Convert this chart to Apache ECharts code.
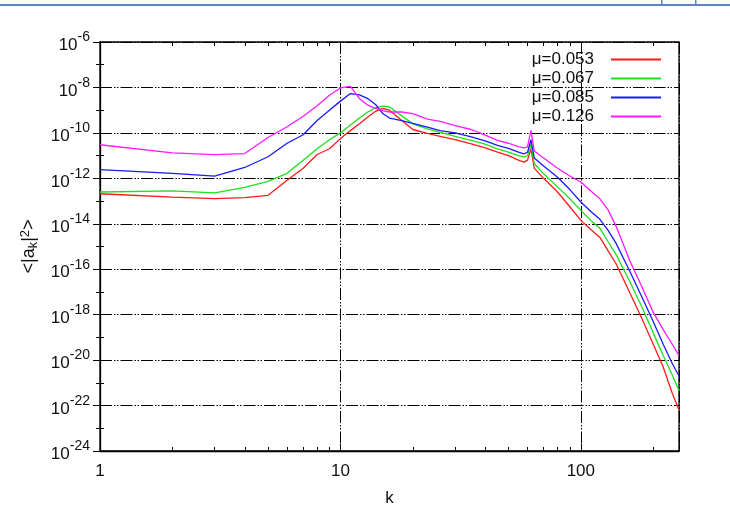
<!DOCTYPE html>
<html>
<head>
<meta charset="utf-8">
<script src="https://cdn.jsdelivr.net/npm/echarts@6/dist/echarts.min.js"></script>
<style>
html, body { margin: 0; padding: 0; background: #fff; }
#chart { width: 730px; height: 519px; }
</style>
</head>
<body>
<div id="chart"></div>
<script>
// Wavenumbers k shared by all spectra
const kValues = [1, 2, 3, 4, 5, 6, 7, 8, 9, 10, 11, 12, 13, 14, 15, 16, 18, 20, 23, 26, 30, 35, 40, 45,
  50, 55, 58, 60, 62, 64, 70, 80, 90, 100, 110, 120, 130, 140, 160, 180, 200, 220, 240, 256];

// <|a_k|^2> for each value of mu
const spectrumMu053 = [2.1e-13, 1.48e-13, 1.29e-13, 1.41e-13, 1.78e-13, 8.3e-13, 2.8e-12, 1.12e-11, 2.0e-11, 5.6e-11,
  1.26e-10, 2.5e-10, 5.0e-10, 8.9e-10, 1.2e-9, 1.0e-9, 3.5e-10, 1.41e-10, 9.5e-11, 7.1e-11, 5.0e-11, 3.3e-11, 2.2e-11, 1.41e-11,
  1.0e-11, 6.3e-12, 5.2e-12, 6.3e-12, 2.0e-11, 2.8e-12, 1.0e-12, 2.5e-13, 5.6e-14, 1.41e-14, 5.6e-15, 2.5e-15, 6.3e-16, 1.78e-16,
  8.9e-18, 6.3e-19, 5.0e-20, 5.0e-21, 3.5e-22, 6.3e-23];
const spectrumMu067 = [2.5e-13, 2.8e-13, 2.3e-13, 4.0e-13, 7.4e-13, 1.66e-12, 6.3e-12, 2.0e-11, 5.0e-11, 1.0e-10,
  2.2e-10, 4.5e-10, 8.3e-10, 1.26e-9, 1.51e-9, 1.38e-9, 5.6e-10, 2.5e-10, 1.51e-10, 1.05e-10, 7.1e-11, 4.7e-11, 3.2e-11, 2.0e-11,
  1.41e-11, 1.0e-11, 8.7e-12, 1.0e-11, 3.2e-11, 4.5e-12, 1.58e-12, 4.2e-13, 1.26e-13, 3.9e-14, 1.41e-14, 6.3e-15, 1.58e-15, 4.5e-16,
  2.8e-17, 2.0e-18, 1.58e-19, 1.58e-20, 2.2e-21, 4.5e-22];
const spectrumMu085 = [2.4e-12, 1.66e-12, 1.26e-12, 3.0e-12, 8.9e-12, 3.5e-11, 8.3e-11, 3.5e-10, 1.0e-9, 2.5e-9,
  5.4e-9, 4.7e-9, 3.2e-9, 1.78e-9, 7.1e-10, 4.5e-10, 3.5e-10, 2.6e-10, 1.78e-10, 1.26e-10, 1.0e-10, 6.6e-11, 4.5e-11, 2.8e-11,
  2.1e-11, 1.41e-11, 1.2e-11, 1.41e-11, 5.0e-11, 7.9e-12, 3.5e-12, 1.12e-12, 3.2e-13, 9.1e-14, 3.5e-14, 1.58e-14, 5.0e-15, 1.41e-15,
  7.9e-17, 5.6e-18, 5.0e-19, 5.0e-20, 7.1e-21, 2.0e-21];
const spectrumMu126 = [3.0e-11, 1.32e-11, 1.1e-11, 1.23e-11, 6.3e-11, 1.86e-10, 5.4e-10, 1.58e-9, 4.5e-9, 9.5e-9,
  1.12e-8, 3.2e-9, 1.66e-9, 1.2e-9, 9.5e-10, 8.3e-10, 8.3e-10, 7.1e-10, 4.0e-10, 3.2e-10, 2.1e-10, 1.41e-10, 7.9e-11, 4.7e-11,
  3.5e-11, 2.5e-11, 2.2e-11, 2.4e-11, 1.29e-10, 1.58e-11, 7.9e-12, 2.8e-12, 1.26e-12, 6.9e-13, 2.8e-13, 1.26e-13, 4.0e-14, 7.9e-15,
  2.3e-16, 1.58e-17, 1.26e-18, 2.2e-19, 5.0e-20, 1.58e-20];

const seriesNames = ['μ=0.053', 'μ=0.067', 'μ=0.085', 'μ=0.126'];
const seriesValues = [spectrumMu053, spectrumMu067, spectrumMu085, spectrumMu126];
const seriesColors = ['#ff1a1a', '#1ee01e', '#1a1aff', '#ff1aff'];

// Axis ranges and tick positions (in data units)
const kMin = 1, kMax = 256;
const yMinExp = -24, yMaxExp = -6, yLabelStep = 2;
const kMinorTicks = [2, 3, 4, 5, 6, 7, 8, 9, 20, 30, 40, 50, 60, 70, 80, 90, 200];
const kAllTicks = [1, 2, 3, 4, 5, 6, 7, 8, 9, 10, 20, 30, 40, 50, 60, 70, 80, 90, 100, 200];

// Both axes run on log10 of the data
const lg = Math.log10;
const gridDash = [12, 2, 1.5, 1.5, 1.5, 2];
const font = 'Liberation Sans, Arial, sans-serif';
const ink = '#111';

const chart = echarts.init(document.getElementById('chart'), null, { renderer: 'canvas' });

const series = seriesValues.map((vals, i) => ({
  name: seriesNames[i],
  type: 'line',
  xAxisIndex: 0,
  yAxisIndex: 0,
  symbol: 'none',
  silent: true,
  animation: false,
  lineStyle: { color: seriesColors[i], width: 1.3 },
  itemStyle: { color: seriesColors[i] },
  data: kValues.map((k, j) => [lg(k), lg(vals[j])])
}));

function xLabel(v) {
  const e = Math.round(v);
  if (Math.abs(v - e) > 1e-6) return '';
  return String(Math.pow(10, e));
}

const option = {
  animation: false,
  backgroundColor: '#fff',
  textStyle: { fontFamily: font },
  grid: {
    left: 100, right: 51, top: 42, bottom: 68,
    show: true, borderColor: '#000', borderWidth: 1.3,
    outerBoundsMode: 'none'
  },
  legend: {
    show: true,
    orient: 'vertical',
    right: 64,
    top: 46,
    align: 'right',
    itemWidth: 50,
    itemHeight: 12,
    itemGap: 2,
    icon: 'path://M0,5 L50,5 L50,7 L0,7 Z',
    textStyle: { fontSize: 17, lineHeight: 17, color: ink, fontFamily: font, padding: [0, 12, 0, 0] },
    data: seriesNames
  },
  xAxis: [
    {
      type: 'value', position: 'bottom', min: lg(kMin), max: lg(kMax), interval: 1,
      name: 'k', nameLocation: 'middle', nameGap: 39,
      nameTextStyle: { fontSize: 17, color: ink, fontFamily: font },
      axisLine: { show: true, lineStyle: { color: '#000', width: 1.3 } },
      axisTick: { show: true, inside: true, length: 7, lineStyle: { color: '#000' } },
      axisLabel: { formatter: xLabel, fontSize: 17, color: ink, margin: 12, fontFamily: font },
      splitLine: { show: true, lineStyle: { color: '#000', width: 1, type: gridDash } }
    },
    {
      type: 'value', position: 'bottom', min: lg(kMin), max: lg(kMax),
      axisLine: { show: false },
      axisTick: { show: true, inside: true, length: 4, customValues: kMinorTicks.map(lg), lineStyle: { color: '#000' } },
      axisLabel: { show: false },
      splitLine: { show: false }
    },
    {
      type: 'value', position: 'top', min: lg(kMin), max: lg(kMax),
      axisLine: { show: false },
      axisTick: { show: true, inside: true, length: 4, customValues: kAllTicks.map(lg), lineStyle: { color: '#000' } },
      axisLabel: { show: false },
      splitLine: { show: false }
    }
  ],
  yAxis: [
    {
      type: 'value', position: 'left', min: yMinExp, max: yMaxExp, interval: yLabelStep,
      name: '<|a{sub|k}|{sup|2}>', nameLocation: 'middle', nameGap: 59, nameRotate: 90,
      nameTextStyle: {
        fontSize: 18, color: ink, fontFamily: font,
        rich: {
          sub: { fontSize: 13, padding: [8, 0, 0, 0], fontFamily: font, color: ink },
          sup: { fontSize: 13, padding: [0, 0, 9, 0], fontFamily: font, color: ink }
        }
      },
      axisLine: { show: true, lineStyle: { color: '#000', width: 1.3 } },
      axisTick: { show: true, inside: true, length: 7, lineStyle: { color: '#000' } },
      minorTick: { show: true, splitNumber: 2, length: 4, lineStyle: { color: '#000' } },
      axisLabel: {
        margin: 10, fontFamily: font,
        formatter: v => '{b|10}{s|' + v + '}',
        rich: {
          b: { fontSize: 17, color: ink, fontFamily: font, padding: [7, 0, 0, 0] },
          s: { fontSize: 14, color: ink, fontFamily: font, padding: [0, 0, 9, 0] }
        }
      },
      splitLine: { show: true, lineStyle: { color: '#000', width: 1, type: gridDash } }
    },
    {
      type: 'value', position: 'right', min: yMinExp, max: yMaxExp, interval: yLabelStep,
      axisLine: { show: false },
      axisTick: { show: true, inside: true, length: 7, lineStyle: { color: '#000' } },
      minorTick: { show: true, splitNumber: 2, length: 4, lineStyle: { color: '#000' } },
      axisLabel: { show: false },
      splitLine: { show: false }
    }
  ],
  graphic: [
    { type: 'rect', shape: { x: 0, y: 4, width: 730, height: 2 }, style: { fill: '#5b86c4' }, silent: true },
    { type: 'rect', shape: { x: 661, y: 0, width: 1.5, height: 6 }, style: { fill: '#5b86c4' }, silent: true },
    { type: 'rect', shape: { x: 695, y: 0, width: 1.5, height: 6 }, style: { fill: '#5b86c4' }, silent: true }
  ],
  series: series
};

chart.setOption(option);
</script>
</body>
</html>
